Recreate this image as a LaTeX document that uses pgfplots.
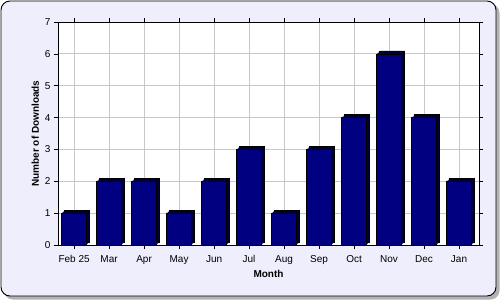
\documentclass[border=0pt]{standalone}
\usepackage{pgfplots}
\pgfplotsset{compat=1.18}
\usepackage{fontspec}
\setmainfont{Liberation Sans}
\definecolor{bgc}{HTML}{EEEEFC}
\definecolor{navybar}{HTML}{000080}
\definecolor{navydark}{HTML}{000038}
\definecolor{gridc}{HTML}{C8C8C8}
\pgfplotstableread{
x y
0 1
1 2
2 2
3 1
4 2
5 3
6 1
7 3
8 4
9 6
10 4
11 2
}\downloads
\begin{document}
\begin{tikzpicture}[x=1pt,y=1pt]
\useasboundingbox (0,0) rectangle (500,300);
\fill[gray!60, rounded corners=9pt] (4,0.5) rectangle (499.5,296);
\filldraw[fill=bgc, draw=black, line width=0.9pt, rounded corners=9pt] (1,4) rectangle (496,299);
\begin{axis}[
  at={(58pt,55pt)}, anchor=south west,
  scale only axis, width=421pt, height=223pt,
  axis background/.style={fill=white},
  ymin=0, ymax=7, ytick={0,1,...,7},
  xmin=-0.46, xmax=11.57,
  xtick={0,...,11},
  xticklabels={Feb 25,Mar,Apr,May,Jun,Jul,Aug,Sep,Oct,Nov,Dec,Jan},
  grid=major, major grid style={gridc, line width=0.8pt},
  tick align=outside, tick style={black, line width=0.6pt},
  major tick length=4pt,
  axis line style={black, line width=0.9pt},
  /pgf/number format/assume math mode=true,
  tick label style={font=\fontsize{10}{12}\selectfont},
  xticklabel style={yshift=-3pt},
  xlabel={\bfseries Month}, ylabel={\bfseries Number of Downloads},
  label style={font=\fontsize{10}{12}\selectfont},
  xlabel style={yshift=1pt},
  ylabel style={yshift=-1pt},
  ybar, bar width=25pt,
  clip=false,
]
\addplot[fill=navydark, draw=black, line width=0.6pt, bar shift=3pt, yshift=3pt] table[x=x,y=y] {\downloads};
\addplot[fill=navydark, draw=none, bar shift=2pt, yshift=2pt] table[x=x,y=y] {\downloads};
\addplot[fill=navydark, draw=none, bar shift=1pt, yshift=1pt] table[x=x,y=y] {\downloads};
\addplot[fill=navybar, draw=black, line width=0.6pt, bar shift=0pt] table[x=x,y=y] {\downloads};
\end{axis}
\end{tikzpicture}
\end{document}
